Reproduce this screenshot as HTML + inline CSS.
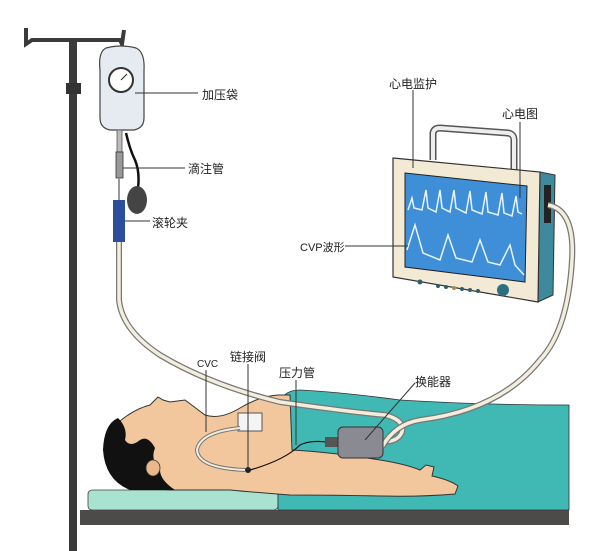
<!DOCTYPE html>
<html><head><meta charset="utf-8"><style>
html,body{margin:0;padding:0;background:#fff;}
svg{display:block}
text{font-family:"Liberation Sans","Noto Sans CJK SC",sans-serif;fill:#222;}
</style></head><body>
<svg width="603" height="551" viewBox="0 0 603 551" xmlns="http://www.w3.org/2000/svg">
<!-- IV pole -->
<rect x="69" y="38" width="8" height="513" fill="#3a3a3a"/>
<path d="M26 28 L26 44 L32 40 L120 40 L122 44 L124 30" fill="none" stroke="#3a3a3a" stroke-width="4"/>
<rect x="66" y="83" width="15" height="11" fill="#333"/>
<!-- bag -->
<path d="M106 48 Q121 44 136 48 Q145 52 144 70 L144 118 Q144 128 134 130 L110 130 Q100 128 100 118 L100 70 Q98 52 106 48Z" fill="#e6eaf1" stroke="#444" stroke-width="1.2"/>
<circle cx="121" cy="80" r="12" fill="#fff" stroke="#333" stroke-width="2"/>
<line x1="121" y1="80" x2="127" y2="74" stroke="#333" stroke-width="1.2"/>
<!-- drip set -->
<rect x="117" y="130" width="5" height="22" fill="#bbb" stroke="#555" stroke-width="0.8"/>
<rect x="116" y="152" width="7" height="26" fill="#999" stroke="#333" stroke-width="0.8"/>
<path d="M126 133 Q130 150 135 160 Q140 172 138 188" fill="none" stroke="#111" stroke-width="2.5"/>
<ellipse cx="137" cy="200" rx="10" ry="14" fill="#444"/>
<line x1="119" y1="178" x2="119" y2="300" stroke="#999" stroke-width="2"/>
<rect x="113" y="200" width="12" height="42" fill="#2d4e9c"/>
<!-- bed -->
<rect x="80" y="510" width="489" height="15" fill="#4d4a4a"/>
<rect x="88" y="490" width="190" height="20" rx="4" fill="#a9e2d1" stroke="#444" stroke-width="0.8"/>
<path d="M278 510 L278 410 Q280 390 300 390 Q340 392 400 400 Q480 405 569 405 L569 510Z" fill="#40b8b3" stroke="#333" stroke-width="0.8"/>
<!-- patient -->
<path d="M110 430 Q130 410 150 405 L158 397 L163 400 L170 402 L185 400 L193 406 L205 415 Q220 420 240 408 Q260 396 278 395 L290 395 L292 450 Q330 452 380 460 Q405 464 420 470 L426 465 L434 467 L432 476 Q450 480 458 486 L455 494 Q420 497 380 496 Q330 495 290 495 Q250 492 230 490 L170 490 Q130 488 115 470 Z" fill="#f2c79d" stroke="#333" stroke-width="1"/>
<path d="M118 418 Q104 424 103 450 Q105 480 130 490 L175 490 Q160 480 160 470 Q150 460 155 448 Q148 435 140 440 Q130 448 125 440 Q128 428 118 418Z" fill="#111"/>
<ellipse cx="153" cy="468" rx="7" ry="8" fill="#eab88a" stroke="#333" stroke-width="0.8"/>
<!-- main tube -->
<path d="M119 242 L119 300 Q122 330 160 355 Q210 385 280 402 Q350 412 385 415 Q405 420 402 432 Q398 442 382 442" fill="none" stroke="#777" stroke-width="6"/>
<path d="M119 242 L119 300 Q122 330 160 355 Q210 385 280 402 Q350 412 385 415 Q405 420 402 432 Q398 442 382 442" fill="none" stroke="#f3eedc" stroke-width="3.5"/>
<!-- monitor -->
<path d="M433 160 L433 133 Q434 128 440 128 L508 133 Q514 134 514 140 L514 170" fill="none" stroke="#555" stroke-width="7"/>
<path d="M433 160 L433 133 Q434 128 440 128 L508 133 Q514 134 514 140 L514 170" fill="none" stroke="#eee" stroke-width="4"/>
<polygon points="540,172 555,175 553,295 538,302" fill="#3e8a9c" stroke="#333" stroke-width="1"/>
<rect x="544" y="185" width="7" height="38" fill="#222"/>
<polygon points="393,158 540,172 538,302 393,277" fill="#f3ead6" stroke="#333" stroke-width="1.2"/>
<polygon points="405,173 527,186 525,282 405,267" fill="#3f8fd8" stroke="#222" stroke-width="1"/>
<path d="M408 210 L412 198 L414 208 L422 210 L426 190 L428 208 L436 212 L440 190 L442 208 L450 212 L454 190 L456 208 L466 213 L470 191 L472 210 L482 214 L486 192 L488 212 L498 215 L502 193 L504 213 L512 216 L516 196 L518 212 L522 214" fill="none" stroke="#e8f4ff" stroke-width="1.5"/>
<path d="M407 250 L415 225 L423 253 L440 260 L448 235 L456 258 L472 262 L480 240 L488 262 L500 265 L510 245 L515 265 L524 275" fill="none" stroke="#e8f4ff" stroke-width="1.5"/>
<circle cx="420" cy="282" r="2.5" fill="#2c5f6e"/>
<circle cx="438" cy="286" r="2" fill="#2c5f6e"/><circle cx="446" cy="287" r="2" fill="#2c5f6e"/><circle cx="454" cy="288" r="2" fill="#b08a40"/><circle cx="462" cy="289" r="2" fill="#2c5f6e"/><circle cx="470" cy="290" r="2" fill="#2c5f6e"/><circle cx="478" cy="291" r="2" fill="#2c5f6e"/>
<circle cx="503" cy="290" r="6" fill="#2c6f80"/>
<!-- cable to monitor -->
<path d="M548 205 Q575 210 572 260 Q568 330 540 360 Q500 410 420 420 Q395 424 382 447" fill="none" stroke="#777" stroke-width="6"/>
<path d="M548 205 Q575 210 572 260 Q568 330 540 360 Q500 410 420 420 Q395 424 382 447" fill="none" stroke="#f3eedc" stroke-width="3.5"/>
<!-- chest pad -->
<rect x="238" y="413" width="24" height="18" fill="#f4f4f4" stroke="#555" stroke-width="1"/>
<!-- CVC tube -->
<path d="M240 428 Q200 432 197 450 Q198 468 245 470" fill="none" stroke="#777" stroke-width="4"/>
<path d="M240 428 Q200 432 197 450 Q198 468 245 470" fill="none" stroke="#f3eedc" stroke-width="2"/>
<circle cx="248" cy="470" r="3" fill="#222"/>
<path d="M250 470 Q285 460 300 445 Q310 440 326 442" fill="none" stroke="#111" stroke-width="1.2"/>
<rect x="325" y="437" width="13" height="10" fill="#555"/>
<rect x="338" y="427" width="45" height="31" rx="5" fill="#8a8a93" stroke="#333" stroke-width="1"/>
<!-- label lines -->
<g stroke="#333" stroke-width="1" fill="none">
<line x1="135" y1="93" x2="198" y2="93"/>
<line x1="123" y1="168" x2="185" y2="168"/>
<line x1="125" y1="221" x2="150" y2="221"/>
<line x1="413" y1="90" x2="413" y2="168"/>
<line x1="520" y1="122" x2="520" y2="198"/>
<line x1="345" y1="246" x2="408" y2="246"/>
<line x1="206" y1="370" x2="206" y2="432"/>
<line x1="248" y1="364" x2="248" y2="470"/>
<line x1="296" y1="380" x2="296" y2="445"/>
<line x1="415" y1="383" x2="365" y2="440"/>
</g>
<text x="202" y="99" font-size="12">加压袋</text>
<text x="188" y="173" font-size="12">滴注管</text>
<text x="152" y="227" font-size="12">滚轮夹</text>
<text x="389" y="88" font-size="12">心电监护</text>
<text x="502" y="118" font-size="12">心电图</text>
<text x="300" y="251" font-size="11">CVP波形</text>
<text x="197" y="367" font-size="10">CVC</text>
<text x="230" y="361" font-size="12">链接阀</text>
<text x="279" y="377" font-size="12">压力管</text>
<text x="415" y="386" font-size="12">换能器</text>
</svg>
</body></html>
